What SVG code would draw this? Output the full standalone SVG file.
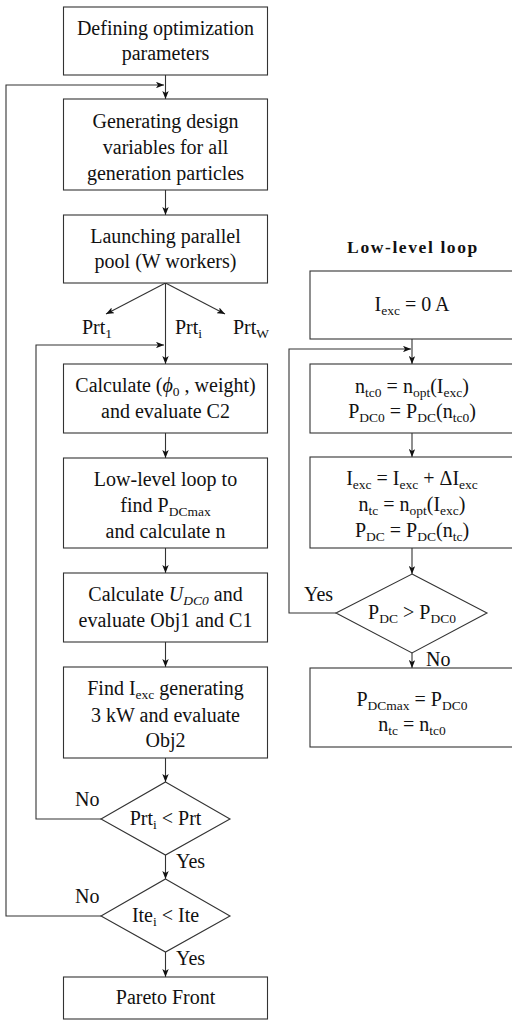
<svg xmlns="http://www.w3.org/2000/svg" width="512" height="1024" viewBox="0 0 512 1024" font-family="Liberation Serif, Times New Roman, serif">
<style>
text{font-family:'Liberation Serif','Times New Roman',serif;font-size:20px;fill:#111;text-anchor:middle}
.lbl{text-anchor:start}
.title{font-weight:bold;font-size:17.5px;letter-spacing:1.6px}
.sub{font-size:13.5px;baseline-shift:-4px}
.it{font-style:italic}
.box{fill:#fff;stroke:#333;stroke-width:1.1}
.ln{fill:none;stroke:#333;stroke-width:1.1}
</style>
<defs>
<marker id="ah" viewBox="0 0 10 8" refX="10" refY="4" markerWidth="8" markerHeight="6.4" markerUnits="userSpaceOnUse" orient="auto">
<path d="M0,0 L10,4 L0,8 L2.5,4 z" fill="#111"/>
</marker>
</defs>

<g id="connectors">
<line class="ln" x1="165.5" y1="75" x2="165.5" y2="99" marker-end="url(#ah)"/>
<polyline class="ln" points="101,916 6,916 6,85 164,85" marker-end="url(#ah)"/>
<line class="ln" x1="165.5" y1="190" x2="165.5" y2="215" marker-end="url(#ah)"/>
<line class="ln" x1="165.5" y1="283" x2="106" y2="314" marker-end="url(#ah)"/>
<line class="ln" x1="165.5" y1="283" x2="225" y2="314" marker-end="url(#ah)"/>
<line class="ln" x1="165.5" y1="283" x2="165.5" y2="364" marker-end="url(#ah)"/>
<polyline class="ln" points="101,819 36,819 36,345 164,345" marker-end="url(#ah)"/>
<line class="ln" x1="165.5" y1="433" x2="165.5" y2="458" marker-end="url(#ah)"/>
<line class="ln" x1="165.5" y1="548" x2="165.5" y2="573" marker-end="url(#ah)"/>
<line class="ln" x1="165.5" y1="642" x2="165.5" y2="667" marker-end="url(#ah)"/>
<line class="ln" x1="165.5" y1="758" x2="165.5" y2="782" marker-end="url(#ah)"/>
<line class="ln" x1="165.5" y1="855" x2="165.5" y2="879" marker-end="url(#ah)"/>
<line class="ln" x1="165.5" y1="952" x2="165.5" y2="977" marker-end="url(#ah)"/>
<line class="ln" x1="412" y1="339" x2="412" y2="364" marker-end="url(#ah)"/>
<polyline class="ln" points="336,613 289,613 289,349 411,349" marker-end="url(#ah)"/>
<line class="ln" x1="412" y1="433" x2="412" y2="457" marker-end="url(#ah)"/>
<line class="ln" x1="412" y1="548" x2="412" y2="574" marker-end="url(#ah)"/>
<line class="ln" x1="412" y1="653" x2="412" y2="668" marker-end="url(#ah)"/>
<text class="lbl" x="82" y="334">Prt<tspan class="sub">1</tspan></text>
<text class="lbl" x="175" y="334">Prt<tspan class="sub">i</tspan></text>
<text class="lbl" x="233" y="334">Prt<tspan class="sub">W</tspan></text>
<text class="lbl" x="75" y="806">No</text>
<text class="lbl" x="176" y="868">Yes</text>
<text class="lbl" x="75" y="903">No</text>
<text class="lbl" x="176" y="965">Yes</text>
<text class="lbl" x="304" y="601">Yes</text>
<text class="lbl" x="426" y="666">No</text>
</g>

<g id="n1"><rect class="box" x="63.5" y="7" width="204" height="68"/>
<text x="165.5" y="35">Defining optimization</text><text x="165.5" y="60">parameters</text></g>

<g id="n2"><rect class="box" x="63.5" y="99" width="204" height="91"/>
<text x="165.5" y="128">Generating design</text><text x="165.5" y="154">variables for all</text><text x="165.5" y="180">generation particles</text></g>

<g id="n3"><rect class="box" x="63.5" y="215" width="204" height="68"/>
<text x="165.5" y="243">Launching parallel</text><text x="165.5" y="268">pool (W workers)</text></g>

<g id="n4"><rect class="box" x="63.5" y="364" width="204" height="69"/>
<text x="165.5" y="392">Calculate (<tspan class="it">ϕ</tspan><tspan class="sub">0</tspan> , weight)</text><text x="165.5" y="418">and evaluate C2</text></g>

<g id="n5"><rect class="box" x="63.5" y="458" width="204" height="90"/>
<text x="165.5" y="486">Low-level loop to</text><text x="165.5" y="512">find P<tspan class="sub">DCmax</tspan></text><text x="165.5" y="538">and calculate n</text></g>

<g id="n6"><rect class="box" x="63.5" y="573" width="204" height="69"/>
<text x="165.5" y="601">Calculate <tspan class="it">U</tspan><tspan class="sub it">DC0</tspan> and</text><text x="165.5" y="627">evaluate Obj1 and C1</text></g>

<g id="n7"><rect class="box" x="63.5" y="667" width="204" height="91"/>
<text x="165.5" y="695">Find I<tspan class="sub">exc</tspan> generating</text><text x="165.5" y="722">3 kW and evaluate</text><text x="165.5" y="747">Obj2</text></g>

<g id="d1"><polygon class="box" points="165.5,782 230,819 165.5,855 101,819"/>
<text x="165.5" y="825">Prt<tspan class="sub">i</tspan> &lt; Prt</text></g>

<g id="d2"><polygon class="box" points="165.5,879 230,916 165.5,952 101,916"/>
<text x="165.5" y="922">Ite<tspan class="sub">i</tspan> &lt; Ite</text></g>

<g id="n8"><rect class="box" x="63.5" y="977" width="204" height="42"/>
<text x="165.5" y="1004">Pareto Front</text></g>

<g id="title"><text class="title" x="413" y="253">Low-level loop</text></g>

<g id="r1"><rect class="box" x="310" y="271" width="206" height="68"/>
<text x="412" y="311">I<tspan class="sub">exc</tspan> = 0 A</text></g>

<g id="r2"><rect class="box" x="310" y="364" width="206" height="69"/>
<text x="412" y="393">n<tspan class="sub">tc0</tspan> = n<tspan class="sub">opt</tspan>(I<tspan class="sub">exc</tspan>)</text><text x="412" y="418">P<tspan class="sub">DC0</tspan> = P<tspan class="sub">DC</tspan>(n<tspan class="sub">tc0</tspan>)</text></g>

<g id="r3"><rect class="box" x="310" y="457" width="206" height="91"/>
<text x="412" y="485">I<tspan class="sub">exc</tspan> = I<tspan class="sub">exc</tspan> + ΔI<tspan class="sub">exc</tspan></text><text x="412" y="511">n<tspan class="sub">tc</tspan> = n<tspan class="sub">opt</tspan>(I<tspan class="sub">exc</tspan>)</text><text x="412" y="537">P<tspan class="sub">DC</tspan> = P<tspan class="sub">DC</tspan>(n<tspan class="sub">tc</tspan>)</text></g>

<g id="dr"><polygon class="box" points="412,574 487,613 412,653 336,613"/>
<text x="412" y="619">P<tspan class="sub">DC</tspan> &gt; P<tspan class="sub">DC0</tspan></text></g>

<g id="r4"><rect class="box" x="310" y="668" width="206" height="79"/>
<text x="412" y="706">P<tspan class="sub">DCmax</tspan> = P<tspan class="sub">DC0</tspan></text><text x="412" y="731">n<tspan class="sub">tc</tspan> = n<tspan class="sub">tc0</tspan></text></g>
</svg>
